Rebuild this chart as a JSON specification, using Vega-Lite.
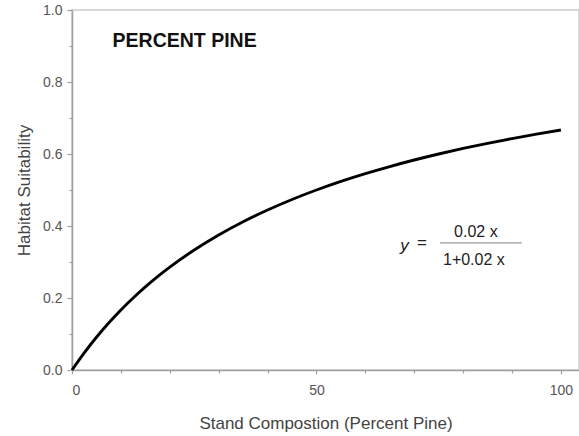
{
  "$schema": "https://vega.github.io/schema/vega-lite/v6.json",
  "width": 507,
  "height": 360,
  "autosize": {"type": "none"},
  "padding": {"left": 72, "top": 10, "right": 0, "bottom": 66},
  "background": "white",
  "config": {
    "font": "Liberation Sans",
    "view": {"stroke": "#cccccc", "strokeWidth": 1.5},
    "axis": {"grid": false, "domainColor": "#a0a0a0", "tickColor": "#a0a0a0", "domainWidth": 1.5, "tickWidth": 1.2, "labelColor": "#555555", "labelFont": "Liberation Sans", "labelFontSize": 14, "titleFont": "Liberation Sans", "titleFontWeight": "normal", "titleColor": "#444444", "titleFontSize": 17}
  },
  "datasets": {
    "curve": [
      {"x": 0, "y": 0},
      {"x": 2.5, "y": 0.0476},
      {"x": 5, "y": 0.0909},
      {"x": 7.5, "y": 0.1304},
      {"x": 10, "y": 0.1667},
      {"x": 12.5, "y": 0.2},
      {"x": 15, "y": 0.2308},
      {"x": 17.5, "y": 0.2593},
      {"x": 20, "y": 0.2857},
      {"x": 25, "y": 0.3333},
      {"x": 30, "y": 0.375},
      {"x": 35, "y": 0.4118},
      {"x": 40, "y": 0.4444},
      {"x": 45, "y": 0.4737},
      {"x": 50, "y": 0.5},
      {"x": 55, "y": 0.5238},
      {"x": 60, "y": 0.5455},
      {"x": 65, "y": 0.5652},
      {"x": 70, "y": 0.5833},
      {"x": 75, "y": 0.6},
      {"x": 80, "y": 0.6154},
      {"x": 85, "y": 0.6296},
      {"x": 90, "y": 0.6429},
      {"x": 95, "y": 0.6552},
      {"x": 100, "y": 0.6667}
    ]
  },
  "resolve": {"axis": {"x": "independent", "y": "independent"}},
  "layer": [
    {
      "data": {"name": "curve"},
      "mark": {"type": "line", "color": "#000000", "strokeWidth": 2.9, "interpolate": "monotone"},
      "encoding": {
        "x": {"field": "x", "type": "quantitative", "scale": {"domain": [0, 103.7], "nice": false, "zero": false},
          "axis": {"orient": "bottom", "values": [0, 50, 100], "tickSize": 4, "labelPadding": 9, "title": "Stand Compostion (Percent Pine)", "titlePadding": 18}},
        "y": {"field": "y", "type": "quantitative", "scale": {"domain": [0, 1], "nice": false},
          "axis": {"orient": "left", "values": [0, 0.2, 0.4, 0.6, 0.8, 1.0], "format": ".1f", "tickSize": 5, "labelPadding": 5, "title": "Habitat Suitability", "titlePadding": 9}}
      }
    },
    {
      "data": {"name": "curve"},
      "mark": {"type": "point", "opacity": 0},
      "encoding": {
        "x": {"field": "x", "type": "quantitative", "scale": {"domain": [0, 103.7], "nice": false, "zero": false},
          "axis": {"orient": "bottom", "values": [10, 20, 30, 40, 60, 70, 80, 90], "tickSize": 3, "labels": false, "domain": false, "title": null}},
        "y": {"field": "y", "type": "quantitative", "scale": {"domain": [0, 1], "nice": false},
          "axis": {"orient": "left", "values": [0.1, 0.3, 0.5, 0.7, 0.9], "tickSize": 3, "labels": false, "domain": false, "title": null}}
      }
    },
    {
      "data": {"values": [{}]},
      "mark": {"type": "text", "font": "Liberation Sans", "fontWeight": "bold", "fontSize": 19.5, "align": "left", "baseline": "middle", "color": "#111111"},
      "encoding": {"x": {"datum": 8.3, "type": "quantitative", "axis": null}, "y": {"datum": 0.914, "type": "quantitative", "axis": null}, "text": {"value": "PERCENT PINE"}}
    },
    {
      "data": {"values": [{}]},
      "mark": {"type": "text", "font": "Liberation Sans", "fontStyle": "italic", "fontSize": 17, "align": "center", "baseline": "middle", "color": "#222222"},
      "encoding": {"x": {"datum": 68.0, "type": "quantitative", "axis": null}, "y": {"datum": 0.344, "type": "quantitative", "axis": null}, "text": {"value": "y"}}
    },
    {
      "data": {"values": [{}]},
      "mark": {"type": "text", "font": "Liberation Sans", "fontSize": 17, "align": "center", "baseline": "middle", "color": "#222222"},
      "encoding": {"x": {"datum": 71.6, "type": "quantitative", "axis": null}, "y": {"datum": 0.352, "type": "quantitative", "axis": null}, "text": {"value": "="}}
    },
    {
      "data": {"values": [{}]},
      "mark": {"type": "text", "font": "Liberation Sans", "fontSize": 16, "align": "center", "baseline": "middle", "color": "#222222"},
      "encoding": {"x": {"datum": 82.6, "type": "quantitative", "axis": null}, "y": {"datum": 0.383, "type": "quantitative", "axis": null}, "text": {"value": "0.02 x"}}
    },
    {
      "data": {"values": [{}]},
      "mark": {"type": "text", "font": "Liberation Sans", "fontSize": 16, "align": "center", "baseline": "middle", "color": "#222222"},
      "encoding": {"x": {"datum": 82.2, "type": "quantitative", "axis": null}, "y": {"datum": 0.306, "type": "quantitative", "axis": null}, "text": {"value": "1+0.02 x"}}
    },
    {
      "data": {"values": [{}]},
      "mark": {"type": "rule", "color": "#999999", "strokeWidth": 1.3},
      "encoding": {"x": {"datum": 75.3, "type": "quantitative", "axis": null}, "x2": {"datum": 92.0}, "y": {"datum": 0.353, "type": "quantitative", "axis": null}}
    }
  ]
}
